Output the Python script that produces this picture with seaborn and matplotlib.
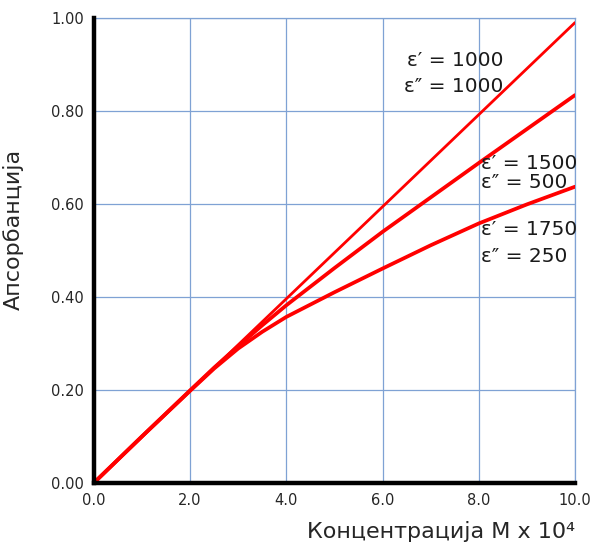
import numpy as np
import pandas as pd
import matplotlib
matplotlib.use("Agg")
import matplotlib.pyplot as plt
import seaborn as sns

# Concentration (M x 10^4) and absorbance for the three wavelength pairs
concentration = [0, 1, 2, 2.5, 3, 3.5, 4, 5, 6, 7, 8, 9, 10]
abs_1000_1000 = [0, 0.099, 0.198, 0.2475, 0.297, 0.3465, 0.396, 0.495,
                 0.594, 0.693, 0.792, 0.891, 0.990]
abs_1500_500 = [0, 0.100, 0.199, 0.248, 0.294, 0.339, 0.382, 0.462,
                0.540, 0.614, 0.688, 0.761, 0.834]
abs_1750_250 = [0, 0.100, 0.198, 0.246, 0.289, 0.325, 0.357, 0.410,
                0.461, 0.511, 0.558, 0.599, 0.637]

# Annotation lines: text, left x, centre y (data units)
labels = [
    ("ε′ = 1000", 6.50, 0.908),
    ("ε″ = 1000", 6.44, 0.852),
    ("ε′ = 1500", 8.05, 0.688),
    ("ε″ = 500", 8.05, 0.647),
    ("ε′ = 1750", 8.05, 0.544),
    ("ε″ = 250", 8.05, 0.486),
]

x_ticks = [0, 2, 4, 6, 8, 10]
y_ticks = [0.0, 0.2, 0.4, 0.6, 0.8, 1.0]

sns.set_style("white")
plt.rcParams["font.family"] = ["DejaVu Sans"]

n = len(concentration)
df = pd.DataFrame({
    "c": concentration * 3,
    "A": abs_1000_1000 + abs_1500_500 + abs_1750_250,
    "series": ["a"] * n + ["b"] * n + ["c"] * n,
})

fig = plt.figure(figsize=(5.98, 5.45), dpi=100)
ax = fig.add_axes([0.157, 0.114, 0.8045, 0.853])

grid_color = "#7fa2d4"
ax.set_xlim(0, 10)
ax.set_ylim(0, 1.0)
ax.set_xticks(x_ticks)
ax.set_yticks(y_ticks)
ax.set_xticklabels([f"{v:.1f}" for v in x_ticks], fontsize=10.5)
ax.set_yticklabels([f"{v:.2f}" for v in y_ticks], fontsize=10.5)
ax.tick_params(length=0, pad=7)
ax.grid(True, color=grid_color, linewidth=0.9)
ax.set_axisbelow(True)

widths = {"a": 2.0, "b": 2.7, "c": 2.7}
for key, sub in df.groupby("series"):
    sns.lineplot(data=sub, x="c", y="A", ax=ax, color="#ff0000",
                 linewidth=widths[key], legend=False, zorder=3)

for text, x, y in labels:
    ax.text(x, y, text, fontsize=14.5, color="#1a1a1a", ha="left",
            va="center", zorder=4)

for side in ("left", "bottom"):
    ax.spines[side].set_color("black")
    ax.spines[side].set_linewidth(3.2)
    ax.spines[side].set_zorder(5)
for side in ("top", "right"):
    ax.spines[side].set_color(grid_color)
    ax.spines[side].set_linewidth(0.9)

ax.set_xlabel("Концентрација M x 10⁴", fontsize=16, ha="right", va="baseline")
ax.xaxis.set_label_coords(1.0, -0.118)
ax.set_ylabel("Апсорбанција", fontsize=16)
ax.yaxis.set_label_coords(-0.145, 0.545)

fig.savefig("out.png", dpi=100)
